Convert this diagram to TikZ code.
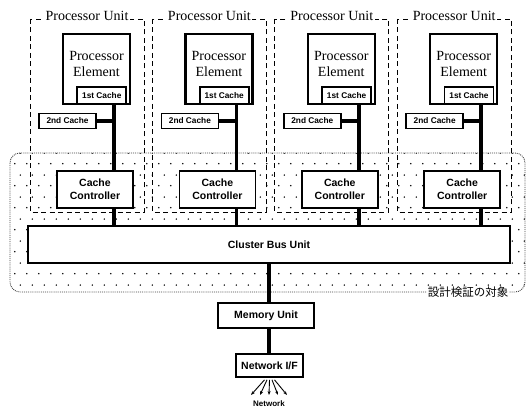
\documentclass[tikz,border=0pt]{standalone}
\usepackage{fontspec}
\setmainfont{Liberation Serif}
\setsansfont{Liberation Sans}
\newfontfamily\jpfont{Noto Sans CJK JP}
\usetikzlibrary{arrows.meta, patterns.meta, calc}

% sparse staggered dots for the verification area
\tikzdeclarepattern{
  name=sparsedots, type=uncolored,
  bounding box={(0pt,0pt) and (12pt,22pt)},
  tile size={(12pt,22pt)},
  code={
    \pgfpathcircle{\pgfqpoint{3pt}{5.5pt}}{0.85pt}
    \pgfpathcircle{\pgfqpoint{9pt}{16.5pt}}{0.85pt}
    \pgfusepath{fill}
  }
}

\begin{document}
\begin{tikzpicture}[
    x=1pt, y=-1pt,
    unit/.style={draw, dash pattern=on 5pt off 3.5pt, line width=0.9pt},
    box/.style={draw, line width=1.7pt, fill=white, inner sep=0pt, align=center,
                font=\sffamily\bfseries\fontsize{10.5}{13}\selectfont},
    pebox/.style={draw, line width=2.4pt, fill=white, minimum width=67pt,
                  minimum height=70pt, align=center, inner sep=0pt,
                  font=\fontsize{14}{16}\selectfont},
    cachebox/.style={box, line width=1.8pt, font=\sffamily\bfseries\fontsize{8.3}{9}\selectfont},
    bus/.style={line width=3.6pt},
    netarr/.style={-{Stealth[length=4pt, width=3pt]}, line width=0.9pt},
  ]
  \useasboundingbox (0,0) rectangle (528,411);

  % area under verification
  \path[draw=black!75, densely dotted, line width=0.9pt, rounded corners=10pt,
        pattern=sparsedots, pattern color=black] (10,153) rectangle (525,292);
  \node[fill=white, inner sep=1pt, font=\jpfont\fontsize{11.5}{12}\selectfont]
    (tgt) at (468,292) {設計検証の対象};

  % four processor units
  \foreach \u in {1,...,4} {
    \pgfmathsetmacro{\L}{30+122.4*(\u-1)}
    \draw[unit] (\L,19) rectangle (\L+114,212);
    \node[fill=white, inner sep=1.5pt, anchor=base, font=\fontsize{14}{16}\selectfont]
      (put\u) at (\L+57,21) {Processor Unit};
    \node[pebox] (pe\u) at (\L+66.5,69) {Processor\\Element\\[-6pt]\mbox{}};
    \node[cachebox, minimum width=49pt, minimum height=17pt, anchor=south east]
      (fc\u) at ([xshift=-4pt]pe\u.south east) {1st Cache};
    \node[cachebox, minimum width=57pt, minimum height=15pt]
      (sc\u) at (\L+37.5,121) {2nd Cache};
    \node[box, minimum width=76pt, minimum height=37pt]
      (cc\u) at (\L+65,189.5) {Cache\\Controller};
    \coordinate (bx\u) at (\L+84,0);
  }

  \node[box, minimum width=482pt, minimum height=37pt] (cbu) at (269,244.5) {Cluster Bus Unit};

  \foreach \u in {1,...,4} {
    \draw[bus] (bx\u |- pe\u.south) -- (bx\u |- cc\u.north);
    \draw[bus] (bx\u |- cc\u.south) -- (bx\u |- cbu.north);
    \draw[bus] (sc\u.east) -- (bx\u |- sc\u.east);
  }

  % memory and network side
  \node[box, minimum width=96pt, minimum height=25pt] (mem) at (266,315.5) {Memory Unit};
  \node[box, minimum width=67pt, minimum height=23pt] (nif) at (269.5,365.5) {Network I/F};
  \coordinate (mx) at (269,0);
  \draw[bus] (mx |- cbu.south) -- (mx |- mem.north);
  \draw[bus] (mx |- mem.south) -- (mx |- nif.north);

  \foreach \i in {-2,...,2} {
    \coordinate (nw\i) at (269+9*\i,395);
    \draw[netarr] ($(nif.south)+(2.5*\i,2)$) -- (nw\i);
  }
  \node[font=\sffamily\bfseries\fontsize{8}{9}\selectfont] (net) at (269,404) {Network};
\end{tikzpicture}
\end{document}
